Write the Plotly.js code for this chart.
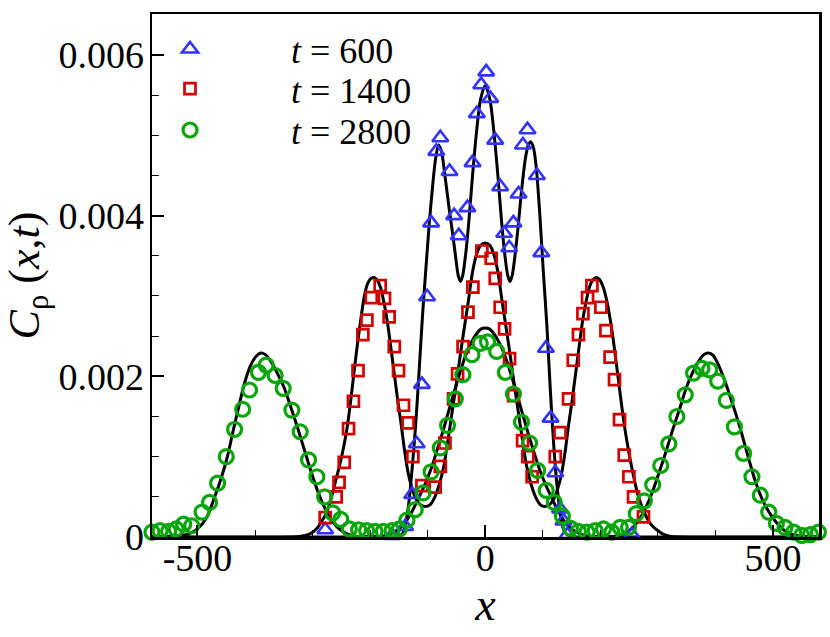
<!DOCTYPE html>
<html>
<head>
<meta charset="utf-8">
<script src="https://cdn.plot.ly/plotly-3.0.1.min.js"></script>
<style>html,body{margin:0;padding:0;background:#fff;}#chart{width:830px;height:637px;}</style>
</head>
<body>
<div id="chart"></div>
<script>
// ---- solid curves (black lines) ----
const x600 = [-579, -200, -160, -150, -143, -137, -132, -127, -121, -115, -109, -103, -97, -91, -86, -81, -76, -70, -62, -58, -52, -47, -43, -39, -34, -29, -22, -15, -8, 0, 8, 15, 22, 29, 34, 39, 43, 47, 52, 57, 63, 70, 75, 79, 84, 89, 95, 101, 107, 113, 119, 125, 131, 136, 142, 150, 160, 200, 580];
const y600 = [0, 0, 0, 0.00001, 0.00005, 0.00022, 0.00047, 0.00085, 0.00138, 0.00205, 0.00275, 0.00335, 0.00392, 0.0044, 0.00472, 0.00488, 0.0048, 0.0045, 0.00405, 0.00385, 0.00352, 0.00326, 0.00318, 0.00326, 0.00352, 0.00388, 0.0045, 0.00505, 0.00545, 0.00562, 0.00545, 0.00505, 0.0045, 0.00388, 0.00352, 0.00326, 0.00318, 0.00326, 0.00352, 0.00385, 0.0043, 0.00472, 0.00488, 0.00492, 0.00484, 0.00458, 0.004, 0.0033, 0.00265, 0.00185, 0.00115, 0.00062, 0.00027, 0.0001, 0.00003, 0.00001, 0, 0, 0];

const x1400 = [-579, -340, -320, -308, -298, -290, -284, -278, -271, -264, -258, -252, -246, -240, -234, -228, -222, -216, -210, -204, -198, -193, -188, -182, -176, -170, -164, -158, -152, -146, -140, -134, -127, -120, -112, -104, -96, -88, -80, -72, -64, -57, -50, -43, -36, -29, -22, -15, -8, 0, 8, 15, 22, 29, 36, 43, 50, 57, 64, 72, 80, 88, 96, 103, 111, 119, 126, 133, 139, 145, 151, 157, 163, 169, 175, 181, 187, 193, 198, 204, 210, 216, 222, 228, 234, 240, 246, 252, 258, 264, 271, 278, 284, 290, 298, 308, 320, 340, 580];
const y1400 = [0, 0, 0.00001, 0.00003, 0.00007, 0.00013, 0.0002, 0.00027, 0.0004, 0.00058, 0.00075, 0.00092, 0.00112, 0.00136, 0.00168, 0.00205, 0.0024, 0.00272, 0.003, 0.00316, 0.00322, 0.00323, 0.0032, 0.00311, 0.00292, 0.00268, 0.00236, 0.00203, 0.0017, 0.0014, 0.00107, 0.0008, 0.0006, 0.00047, 0.0004, 0.00038, 0.0004, 0.00049, 0.00065, 0.00088, 0.00124, 0.00158, 0.00192, 0.00228, 0.00262, 0.00295, 0.0033, 0.00352, 0.00363, 0.00366, 0.00363, 0.00352, 0.0033, 0.00295, 0.00262, 0.00228, 0.00192, 0.00158, 0.00124, 0.00088, 0.00065, 0.00049, 0.0004, 0.00038, 0.0004, 0.00047, 0.0006, 0.0008, 0.00107, 0.0014, 0.0017, 0.00203, 0.00236, 0.00268, 0.00292, 0.00311, 0.0032, 0.00323, 0.00321, 0.00313, 0.00298, 0.00276, 0.00248, 0.00215, 0.00181, 0.00148, 0.0012, 0.00096, 0.00075, 0.00056, 0.0004, 0.00028, 0.0002, 0.00014, 0.00009, 0.00004, 0.00001, 0, 0];

const x2800 = [-579, -550, -530, -515, -500, -485, -470, -458, -448, -438, -428, -418, -408, -398, -390, -382, -372, -362, -350, -338, -326, -314, -302, -290, -278, -266, -254, -240, -225, -200, -180, -165, -150, -139, -127, -116, -105, -95, -85, -75, -65, -55, -45, -35, -25, -15, -7, 0, 7, 15, 25, 35, 45, 55, 65, 75, 85, 95, 105, 116, 127, 139, 150, 165, 180, 200, 225, 240, 254, 266, 278, 290, 302, 314, 326, 338, 350, 362, 372, 380, 388, 396, 406, 416, 426, 436, 446, 458, 470, 482, 494, 506, 520, 535, 555, 580];
const y2800 = [0, 0.00001, 0.00002, 0.00004, 0.0001, 0.00023, 0.0005, 0.00075, 0.001, 0.00132, 0.00163, 0.00192, 0.00213, 0.00225, 0.00229, 0.00227, 0.00218, 0.00205, 0.00187, 0.00162, 0.00136, 0.00108, 0.0008, 0.00055, 0.00035, 0.0002, 0.0001, 0.00004, 0.00001, 0.000005, 0.00001, 0.00004, 0.0001, 0.00018, 0.00032, 0.00048, 0.00065, 0.00083, 0.00105, 0.00128, 0.00153, 0.00178, 0.00202, 0.00224, 0.00241, 0.00253, 0.00259, 0.0026, 0.00259, 0.00253, 0.00241, 0.00224, 0.00202, 0.00178, 0.00153, 0.00128, 0.00105, 0.00083, 0.00065, 0.00048, 0.00032, 0.00018, 0.0001, 0.00004, 0.00001, 0.000005, 0.00001, 0.00004, 0.0001, 0.0002, 0.00035, 0.00055, 0.0008, 0.00106, 0.00134, 0.0016, 0.00187, 0.00207, 0.0022, 0.00227, 0.00229, 0.00226, 0.00213, 0.00195, 0.00174, 0.00152, 0.00128, 0.00097, 0.00068, 0.00046, 0.0003, 0.00018, 0.00008, 0.00003, 0.00001, 0];

// ---- symbols ----
const tx600 = [-278, -162, -139, -127, -119, -110, -101, -94, -85, -78, -62, -54, -46, -31, -22, -14.5, -7, 1.7, 8.7, 17.4, 26, 33, 41.7, 49, 58, 65.5, 73.5, 89.8, 97.5, 105.5, 113.5, 121.7, 130, 136, 143, 255];
const ty600 = [0.00009, 0.00002, 0.00013, 0.00053, 0.00116, 0.0019, 0.00299, 0.00391, 0.0048, 0.00497, 0.00455, 0.004, 0.00375, 0.0041, 0.00466, 0.00527, 0.00563, 0.00579, 0.00546, 0.00494, 0.00436, 0.00378, 0.0036, 0.00391, 0.00427, 0.00488, 0.00507, 0.0045, 0.00354, 0.00235, 0.00148, 0.0008, 0.00035, 0.0002, 0.00003, 0.00003];

const sx1400 = [-278, -259, -254, -245, -237.5, -229, -221, -212.6, -205.6, -198, -182.5, -175, -167, -158, -150.6, -142, -134, -125.7, -110, -87, -78, -70, -55, -48, -38.5, -30, -21.4, -5.8, 10.4, 17.4, 26, 33.6, 42.3, 49.2, 65, 74, 81.5, 121.7, 130, 144.8, 153, 162, 169.8, 177.8, 185.4, 201, 209.8, 217, 224.7, 233.4, 241.6, 249.7, 257.7, 275];
const sy1400 = [0.00024, 0.0005, 0.00068, 0.00093, 0.00135, 0.00169, 0.00207, 0.00252, 0.0027, 0.00298, 0.00313, 0.00297, 0.00274, 0.00237, 0.00207, 0.00164, 0.00142, 0.001, 0.00064, 0.00062, 0.00088, 0.00117, 0.00172, 0.00203, 0.00237, 0.0028, 0.00311, 0.00356, 0.00347, 0.00322, 0.00286, 0.00259, 0.00222, 0.00176, 0.0012, 0.001, 0.00075, 0.001, 0.0013, 0.00172, 0.0022, 0.00252, 0.00278, 0.00298, 0.00313, 0.00286, 0.00257, 0.00224, 0.00196, 0.00146, 0.00102, 0.00075, 0.0005, 0.00025];

const cx2800 = [-579, -565, -550, -537, -524, -510, -492, -479, -465, -450, -435.5, -421.5, -409.5, -394, -380.5, -365, -351, -336, -321.5, -307, -292.5, -279, -265, -251, -236, -220, -206, -191.5, -177, -162, -149, -136, -121.7, -108, -94, -78, -65.5, -52, -38.8, -23, -8.7, 4, 20, 35, 49, 63, 77, 91, 106, 120, 134, 148, 162, 177, 191, 205.6, 220, 234.6, 249, 262.4, 276.4, 291, 305, 319, 333, 347.6, 362, 376.6, 390, 404, 419, 433, 449, 463.5, 478, 492.6, 506, 521, 536, 550, 565, 579];
const cy2800 = [0.00006, 0.00008, 0.00007, 0.0001, 0.00016, 0.00014, 0.00031, 0.00043, 0.00067, 0.001, 0.00134, 0.00159, 0.00183, 0.00205, 0.00214, 0.00201, 0.00185, 0.00158, 0.00131, 0.00096, 0.00075, 0.0005, 0.0003, 0.00022, 0.0001, 0.00009, 0.00008, 0.00007, 0.00007, 0.00008, 0.0001, 0.00021, 0.00034, 0.00055, 0.00081, 0.00111, 0.00139, 0.00172, 0.00202, 0.00227, 0.00241, 0.00243, 0.00231, 0.00205, 0.00178, 0.00143, 0.00117, 0.00083, 0.00058, 0.00043, 0.00026, 0.00011, 0.00007, 0.00006, 0.00008, 0.0001, 0.00006, 0.00012, 0.00012, 0.00029, 0.00045, 0.00065, 0.00089, 0.00116, 0.0015, 0.00177, 0.00204, 0.0021, 0.00208, 0.00194, 0.0017, 0.00137, 0.00104, 0.00075, 0.00052, 0.00031, 0.00017, 0.00012, 0.00006, 0.00002, 0.00003, 0.00006];

// ---- labels ----
const seriesNames = ['600', '1400', '2800'];
const xTickVals = [-500, 0, 500];
const xTickText = ['-500', '0', '500'];
const yTickVals = [0, 0.002, 0.004, 0.006];
const yTickText = ['0', '0.002', '0.004', '0.006'];

const FONT = '"Liberation Serif", "Times New Roman", Times, serif';
const PAD = '\u00A0'.repeat(9);

function curve(x, y) {
  return {x: x, y: y, type: 'scatter', mode: 'lines', showlegend: false, hoverinfo: 'skip',
          line: {color: '#000', width: 3, shape: 'spline', smoothing: 0.8}};
}

const traces = [
  curve(x600, y600), curve(x1400, y1400), curve(x2800, y2800),
  {x: tx600, y: ty600, type: 'scatter', mode: 'markers', cliponaxis: false, legend: 'legend',
   name: PAD + '<i>t</i> = ' + seriesNames[0],
   marker: {symbol: 'triangle-up-open', size: 14, color: '#3333ff', line: {width: 2.6, color: '#3333ff'}}},
  {x: sx1400, y: sy1400, type: 'scatter', mode: 'markers', cliponaxis: false, legend: 'legend2',
   name: PAD + '<i>t</i> = ' + seriesNames[1],
   marker: {symbol: 'square-open', size: 11, color: '#d40000', line: {width: 2.7, color: '#d40000'}}},
  {x: cx2800, y: cy2800, type: 'scatter', mode: 'markers', cliponaxis: false, legend: 'legend3',
   name: PAD + '<i>t</i> = ' + seriesNames[2],
   marker: {symbol: 'circle-open', size: 14, color: '#0aa50a', line: {width: 3.2, color: '#0aa50a'}}}
];

function leg(y) {
  return {x: 0.027, y: y, xanchor: 'left', yanchor: 'middle', bgcolor: 'rgba(0,0,0,0)',
          borderwidth: 0, font: {family: FONT, size: 36, color: '#000'}, itemsizing: 'trace'};
}

const layout = {
  width: 830, height: 637,
  margin: {l: 152, r: 11, t: 14, b: 100, pad: 0},
  paper_bgcolor: '#fff', plot_bgcolor: '#fff',
  font: {family: FONT, color: '#000'},
  showlegend: true,
  legend: leg(0.933), legend2: leg(0.857), legend3: leg(0.778),
  xaxis: {
    range: [-579, 580], showgrid: false, zeroline: false,
    showline: true, linecolor: '#000', linewidth: 2.5, mirror: true,
    tickmode: 'array', tickvals: xTickVals, ticktext: xTickText,
    ticks: 'inside', ticklen: 12, tickwidth: 2, tickcolor: '#000',
    minor: {dtick: 100, tick0: 0, ticks: 'inside', ticklen: 7, tickwidth: 1, tickcolor: '#000', showgrid: false},
    tickfont: {family: FONT, size: 38, color: '#000'},
    ticklabelstandoff: -14,
    title: {text: '<i>x</i>', font: {family: FONT, size: 46, color: '#000'}, standoff: 6}
  },
  yaxis: {
    range: [0, 0.00651], showgrid: false, zeroline: false,
    showline: true, linecolor: '#000', linewidth: 2.5, mirror: true,
    tickmode: 'array', tickvals: yTickVals, ticktext: yTickText,
    ticks: 'inside', ticklen: 12, tickwidth: 2, tickcolor: '#000',
    minor: {dtick: 0.0005, tick0: 0, ticks: 'inside', ticklen: 7, tickwidth: 1, tickcolor: '#000', showgrid: false},
    tickfont: {family: FONT, size: 38, color: '#000'},
    ticklabelstandoff: -2,
    title: {text: '<i>C</i><sub>ρ</sub> (<i>x</i>,<i>t</i>)', font: {family: FONT, size: 44, color: '#000'}, standoff: 6}
  }
};

Plotly.newPlot('chart', traces, layout, {displayModeBar: false, staticPlot: true});
</script>
</body>
</html>
